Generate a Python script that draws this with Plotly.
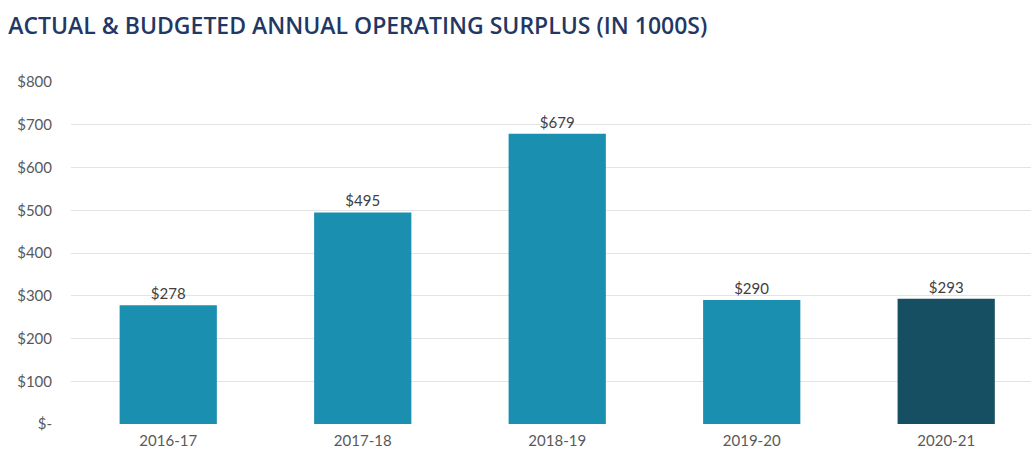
import plotly.graph_objects as go

categories = ["2016-17", "2017-18", "2018-19", "2019-20", "2020-21"]
values = [278, 495, 679, 290, 293]
labels = ["$278", "$495", "$679", "$290", "$293"]
bar_colors = ["#1b8fb0", "#1b8fb0", "#1b8fb0", "#1b8fb0", "#174f62"]
tick_vals = [0, 100, 200, 300, 400, 500, 600, 700, 800]
tick_text = ["$-", "$100", "$200", "$300", "$400", "$500", "$600", "$700", "$800"]

fig = go.Figure()
fig.add_trace(go.Bar(
    x=list(range(len(categories))),
    y=values,
    text=labels,
    textposition="outside",
    textfont=dict(family="Lato, Open Sans, sans-serif", size=15, color="#404040"),
    marker=dict(color=bar_colors, line=dict(width=0)),
    cliponaxis=False,
    hoverinfo="skip",
))

fig.update_layout(
    width=1031, height=451,
    margin=dict(l=71, r=0, t=82, b=27),
    paper_bgcolor="white", plot_bgcolor="white",
    bargap=0.5,
    showlegend=False,
    title=dict(
        text="ACTUAL & BUDGETED ANNUAL OPERATING SURPLUS (IN 1000S)",
        x=0.008, xanchor="left", y=0.943, yanchor="middle",
        font=dict(family="Open Sans, sans-serif", size=23, weight=600, color="#1f3864"),
    ),
    xaxis=dict(
        range=[-0.5, 4.436],
        tickmode="array",
        tickvals=list(range(len(categories))),
        ticktext=categories,
        showgrid=False, zeroline=False, showline=False,
        ticks="",
        ticklabelstandoff=6,
        tickfont=dict(family="Lato, Open Sans, sans-serif", size=15, color="#595959"),
    ),
    yaxis=dict(
        range=[0, 800],
        tickmode="array",
        tickvals=tick_vals,
        ticktext=tick_text,
        showgrid=True, gridcolor="#e3e3e3", gridwidth=1,
        zeroline=False, showline=False,
        ticks="", ticklen=0,
        ticklabelstandoff=18,
        tickfont=dict(family="Lato, Open Sans, sans-serif", size=15, color="#595959"),
    ),
)

fig.write_html("out.html")
